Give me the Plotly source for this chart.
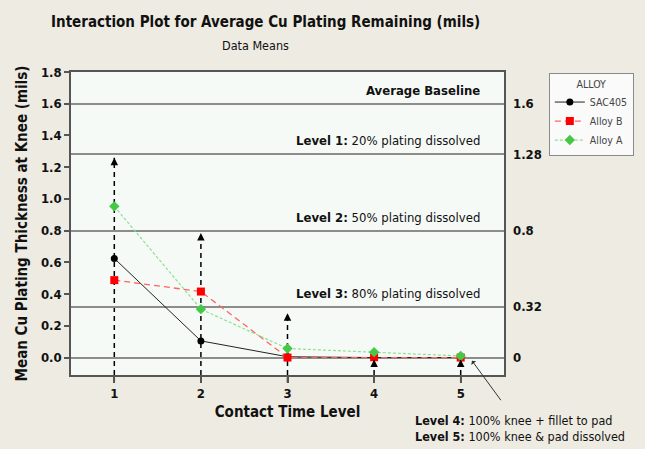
import plotly.graph_objects as go

# Contact time levels and mean remaining Cu plating (mils) per alloy
levels = [1, 2, 3, 4, 5]
sac405 = [0.625, 0.105, 0.005, 0.0, 0.0]
alloy_b = [0.488, 0.416, 0.0, 0.002, 0.0]
alloy_a = [0.953, 0.305, 0.057, 0.034, 0.010]

# Upper end of the dashed arrow drawn at each contact time level
arrow_tops = [1.26, 0.785, 0.28, -0.012, -0.012]

# Reference thresholds and their labels
ref_values = [1.6, 1.28, 0.8, 0.32, 0]
ref_tick_text = ["1.6", "1.28", "0.8", "0.32", "0"]
ref_labels = [
    "<b>Average Baseline</b>",
    "<b>Level 1:</b> 20% plating dissolved",
    "<b>Level 2:</b> 50% plating dissolved",
    "<b>Level 3:</b> 80% plating dissolved",
]
footnote = ("<b>Level 4:</b> 100% knee + fillet to pad<br>"
            "<b>Level 5:</b> 100% knee &amp; pad dissolved")

y_range = [-0.11, 1.8]
x_range = [0.5, 5.5]

FONT = "DejaVu Sans Condensed, DejaVu Sans, sans-serif"
PAGE_BG = "#EEEBE2"
PLOT_BG = "#F6FAF7"
AXIS_COLOR = "#555555"
REF_COLOR = "#8C8C8C"

fig = go.Figure()

fig.add_trace(go.Scatter(
    x=levels, y=sac405, name="SAC405", mode="lines+markers",
    line=dict(color="#222222", width=1),
    marker=dict(symbol="circle", size=7, color="#000000"),
))
fig.add_trace(go.Scatter(
    x=levels, y=alloy_b, name="Alloy B", mode="lines+markers",
    line=dict(color="#FF6464", width=1.3, dash="6px,4px"),
    marker=dict(symbol="square", size=8, color="#FF0000"),
))
fig.add_trace(go.Scatter(
    x=levels, y=alloy_a, name="Alloy A", mode="lines+markers",
    line=dict(color="#8EE08E", width=1.2, dash="3px,2px"),
    marker=dict(symbol="diamond", size=8, color="#45C845"),
))
# carrier for the right-hand reference axis
fig.add_trace(go.Scatter(
    x=[None], y=[None], yaxis="y2", showlegend=False, hoverinfo="skip",
))

shapes = []
annotations = []
for lvl, top in zip(levels, arrow_tops):
    dash_style = dict(color="#000000", width=1.5, dash="5px,4px")
    shapes.append(dict(type="line", xref="x", yref="y", x0=lvl, x1=lvl,
                       y0=y_range[0], y1=top, line=dash_style, layer="below"))
    shapes.append(dict(type="line", xref="x", yref="paper", x0=lvl, x1=lvl,
                       y0=-0.025, y1=0, line=dash_style, layer="below"))
    annotations.append(dict(x=lvl, y=top, ax=lvl, ay=top - 0.04,
                            xref="x", yref="y", axref="x", ayref="y",
                            text="", showarrow=True, arrowhead=2,
                            arrowsize=1, arrowwidth=1.5, arrowcolor="#000000",
                            standoff=0))

for val, label in zip(ref_values, ref_labels):
    annotations.append(dict(x=5.25, y=val, xref="x", yref="y",
                            xanchor="right", yanchor="bottom", yshift=4,
                            text=label, showarrow=False,
                            font=dict(family=FONT, size=13, color="#111111")))

# pointer from the footnote to the level-5 point
annotations.append(dict(x=5.13, y=-0.02, xref="x", yref="y",
                        ax=30, ay=41, text="", showarrow=True,
                        arrowhead=1, arrowsize=1, arrowwidth=1,
                        arrowcolor="#333333", standoff=0))
annotations.append(dict(x=0.79, y=-0.175, xref="paper", yref="paper",
                        xanchor="left", yanchor="middle", align="left",
                        text=footnote, showarrow=False,
                        font=dict(family=FONT, size=12.5, color="#111111")))

annotations.append(dict(x=0.449, y=1.165, xref="paper", yref="paper",
                        xanchor="center", yanchor="middle", showarrow=False,
                        text="<b>Interaction Plot for Average Cu Plating Remaining (mils)</b>",
                        font=dict(family=FONT, size=15, color="#111111")))
annotations.append(dict(x=0.426, y=1.089, xref="paper", yref="paper",
                        xanchor="center", yanchor="middle", showarrow=False,
                        text="Data Means",
                        font=dict(family=FONT, size=12.5, color="#111111")))

fig.update_layout(
    width=645, height=449,
    margin=dict(l=71, r=140, t=72, b=74),
    paper_bgcolor=PAGE_BG,
    plot_bgcolor=PLOT_BG,
    font=dict(family=FONT, color="#111111"),
    shapes=shapes,
    annotations=annotations,
    showlegend=True,
    legend=dict(
        x=1.101, y=0.997, xanchor="left", yanchor="top",
        bgcolor="#FAFAFA", bordercolor="#8A8A8A", borderwidth=1,
        title=dict(text="ALLOY", side="top center",
                   font=dict(family=FONT, size=10.5, color="#444444")),
        font=dict(family=FONT, size=10.5, color="#444444"),
        tracegroupgap=0,
        entrywidth=100,
    ),
    xaxis=dict(
        range=x_range, tickvals=levels, ticktext=[str(v) for v in levels],
        showgrid=False, zeroline=False,
        showline=True, linecolor=AXIS_COLOR, linewidth=1.5, mirror=True,
        ticks="outside", ticklen=6, tickcolor=AXIS_COLOR, tickwidth=1.5,
        tickfont=dict(family=FONT, size=13, color="#111111", weight="bold"),
        title=dict(text="<b>Contact Time Level</b>", standoff=6,
                   font=dict(family=FONT, size=15, color="#111111")),
    ),
    yaxis=dict(
        range=y_range, tickvals=[0, 0.2, 0.4, 0.6, 0.8, 1.0, 1.2, 1.4, 1.6, 1.8],
        tickformat=".1f",
        showgrid=False, zeroline=False,
        showline=True, linecolor=AXIS_COLOR, linewidth=1.5, mirror=True,
        ticks="outside", ticklen=5, tickcolor=AXIS_COLOR, tickwidth=1.5,
        tickfont=dict(family=FONT, size=13, color="#111111", weight="bold"),
        title=dict(text="<b>Mean Cu Plating Thickness at Knee (mils)</b>",
                   standoff=10,
                   font=dict(family=FONT, size=15, color="#111111")),
    ),
    yaxis2=dict(
        overlaying="y", side="right", range=y_range,
        tickvals=ref_values, ticktext=ref_tick_text,
        showgrid=True, gridcolor=REF_COLOR, gridwidth=1.5,
        zeroline=False, showline=False, ticks="", ticklabelstandoff=8,
        tickfont=dict(family=FONT, size=13, color="#111111", weight="bold"),
    ),
)

fig.write_html("out.html")
